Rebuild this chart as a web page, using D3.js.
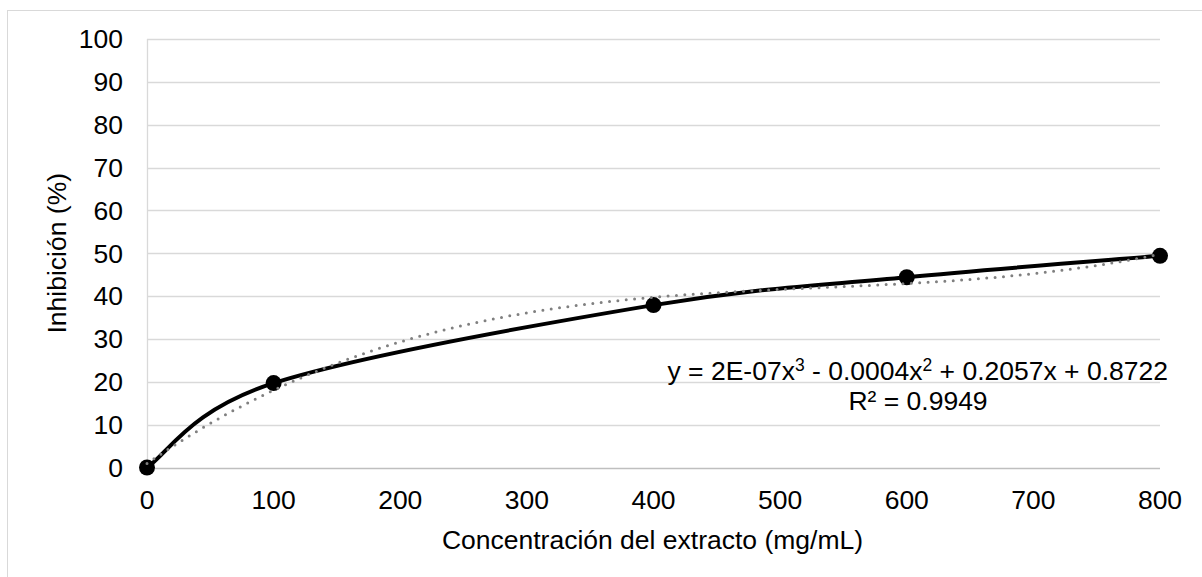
<!DOCTYPE html>
<html>
<head>
<meta charset="utf-8">
<script src="https://cdn.jsdelivr.net/npm/d3@7"></script>
<style>
  html, body { margin: 0; padding: 0; background: #fff; }
  svg { display: block; }
  text { font-family: "Liberation Sans", Arial, sans-serif; fill: #000; }
</style>
</head>
<body>
<svg id="chart" width="1202" height="577"></svg>
<script>
// Concentración del extracto (mg/mL) vs. % de inhibición
const concentrations = [0, 100, 400, 600, 800];
const inhibition = [0, 19.7, 37.9, 44.4, 49.4];

const xTicks = [0, 100, 200, 300, 400, 500, 600, 700, 800];
const yTicks = [0, 10, 20, 30, 40, 50, 60, 70, 80, 90, 100];

const xTitle = "Concentración del extracto (mg/mL)";
const yTitle = "Inhibición (%)";
const equationParts = [
  { t: "y = 2E-07x" }, { t: "3", sup: true },
  { t: " - 0.0004x" }, { t: "2", sup: true },
  { t: " + 0.2057x + 0.8722" }
];
const rSquaredLabel = "R² = 0.9949";

const W = 1202, H = 577;
const plot = { left: 147, right: 1160, top: 39, bottom: 467.5 };
const fontSize = 26.5;

const svg = d3.select("#chart");

// Chart area border
svg.append("rect")
  .attr("x", 7.5).attr("y", 10.5)
  .attr("width", W).attr("height", H)
  .attr("fill", "#fff").attr("stroke", "#d9d9d9").attr("stroke-width", 1);

const x = d3.scaleLinear().domain([0, 800]).range([plot.left, plot.right]);
const y = d3.scaleLinear().domain([0, 100]).range([plot.bottom, plot.top]);

// Horizontal gridlines
svg.append("g")
  .selectAll("line")
  .data(yTicks.filter(d => d !== 0))
  .join("line")
  .attr("x1", plot.left).attr("x2", plot.right)
  .attr("y1", d => Math.round(y(d)) + 0.5).attr("y2", d => Math.round(y(d)) + 0.5)
  .attr("stroke", "#d9d9d9").attr("stroke-width", 1.3);

// Axis lines
svg.append("line")
  .attr("x1", plot.left + 0.5).attr("x2", plot.left + 0.5)
  .attr("y1", plot.top).attr("y2", plot.bottom)
  .attr("stroke", "#d9d9d9").attr("stroke-width", 1.3);
svg.append("line")
  .attr("x1", plot.left).attr("x2", plot.right)
  .attr("y1", Math.round(y(0)) + 0.5).attr("y2", Math.round(y(0)) + 0.5)
  .attr("stroke", "#bfbfbf").attr("stroke-width", 1.3);

// Tick labels
svg.append("g")
  .selectAll("text")
  .data(yTicks)
  .join("text")
  .attr("x", 123)
  .attr("y", d => y(d))
  .attr("dy", "0.35em")
  .attr("text-anchor", "end")
  .attr("font-size", fontSize)
  .text(d => d);

svg.append("g")
  .selectAll("text")
  .data(xTicks)
  .join("text")
  .attr("x", d => x(d))
  .attr("y", 509)
  .attr("text-anchor", "middle")
  .attr("font-size", fontSize)
  .text(d => d);

// Axis titles
svg.append("text")
  .attr("x", (plot.left + plot.right) / 2 - 1)
  .attr("y", 549)
  .attr("text-anchor", "middle")
  .attr("font-size", fontSize)
  .text(xTitle);

svg.append("text")
  .attr("transform", `translate(65.5,${(plot.top + plot.bottom) / 2}) rotate(-90)`)
  .attr("text-anchor", "middle")
  .attr("font-size", fontSize)
  .text(yTitle);

// Smoothed line: cubic Bezier segments with Catmull-Rom style tangents,
// endpoints use the chord to their neighbour.
function smoothPath(points) {
  const p = d3.path();
  const n = points.length;
  const tan = points.map((pt, i) => {
    const a = points[Math.max(0, i - 1)];
    const b = points[Math.min(n - 1, i + 1)];
    return [(b[0] - a[0]) / 6, (b[1] - a[1]) / 6];
  });
  p.moveTo(points[0][0], points[0][1]);
  for (let i = 0; i < n - 1; i++) {
    const p0 = points[i], p1 = points[i + 1];
    p.bezierCurveTo(
      p0[0] + tan[i][0], p0[1] + tan[i][1],
      p1[0] - tan[i + 1][0], p1[1] - tan[i + 1][1],
      p1[0], p1[1]);
  }
  return p.toString();
}

const pts = concentrations.map((c, i) => [c, inhibition[i]]);
const screenPts = pts.map(d => [x(d[0]), y(d[1])]);

svg.append("path")
  .attr("d", smoothPath(screenPts))
  .attr("fill", "none")
  .attr("stroke", "#000")
  .attr("stroke-width", 4)
  .attr("stroke-linejoin", "round");

svg.append("g")
  .selectAll("circle")
  .data(pts)
  .join("circle")
  .attr("cx", d => x(d[0])).attr("cy", d => y(d[1]))
  .attr("r", 8)
  .attr("fill", "#000");

// Polynomial (order 3) least-squares trendline
function polyFit(xs, ys, order) {
  const n = order + 1;
  const s = v => v / 100; // rescale for numerical stability
  const A = Array.from({ length: n }, () => new Array(n + 1).fill(0));
  xs.forEach((xv, k) => {
    const xv2 = s(xv);
    for (let i = 0; i < n; i++) {
      for (let j = 0; j < n; j++) A[i][j] += Math.pow(xv2, i + j);
      A[i][n] += Math.pow(xv2, i) * ys[k];
    }
  });
  for (let c = 0; c < n; c++) {
    let p = c;
    for (let r = c + 1; r < n; r++) if (Math.abs(A[r][c]) > Math.abs(A[p][c])) p = r;
    [A[c], A[p]] = [A[p], A[c]];
    for (let r = 0; r < n; r++) {
      if (r === c) continue;
      const f = A[r][c] / A[c][c];
      for (let j = c; j <= n; j++) A[r][j] -= f * A[c][j];
    }
  }
  const coef = A.map((row, i) => row[n] / row[i]);
  return xv => coef.reduce((acc, cf, i) => acc + cf * Math.pow(s(xv), i), 0);
}

const trend = polyFit(concentrations, inhibition, 3);
const trendPts = d3.range(0, 800.001, 4).map(c => [c, trend(c)]);

svg.append("path")
  .attr("d", d3.line().x(d => x(d[0])).y(d => y(d[1]))(trendPts))
  .attr("fill", "none")
  .attr("stroke", "#808080")
  .attr("stroke-width", 3)
  .attr("stroke-linecap", "round")
  .attr("stroke-dasharray", "0 8.4");

// Trendline equation label
const eq = svg.append("text")
  .attr("x", 1168)
  .attr("y", 380)
  .attr("text-anchor", "end")
  .attr("font-size", fontSize);
equationParts.forEach(p => {
  const ts = eq.append("tspan").text(p.t);
  if (p.sup) ts.attr("font-size", fontSize * 0.66).attr("dy", -9);
  else if (eq.selectAll("tspan").size() > 1) ts.attr("dy", 9);
});

svg.append("text")
  .attr("x", 918)
  .attr("y", 410)
  .attr("text-anchor", "middle")
  .attr("font-size", fontSize)
  .text(rSquaredLabel);
</script>
</body>
</html>
